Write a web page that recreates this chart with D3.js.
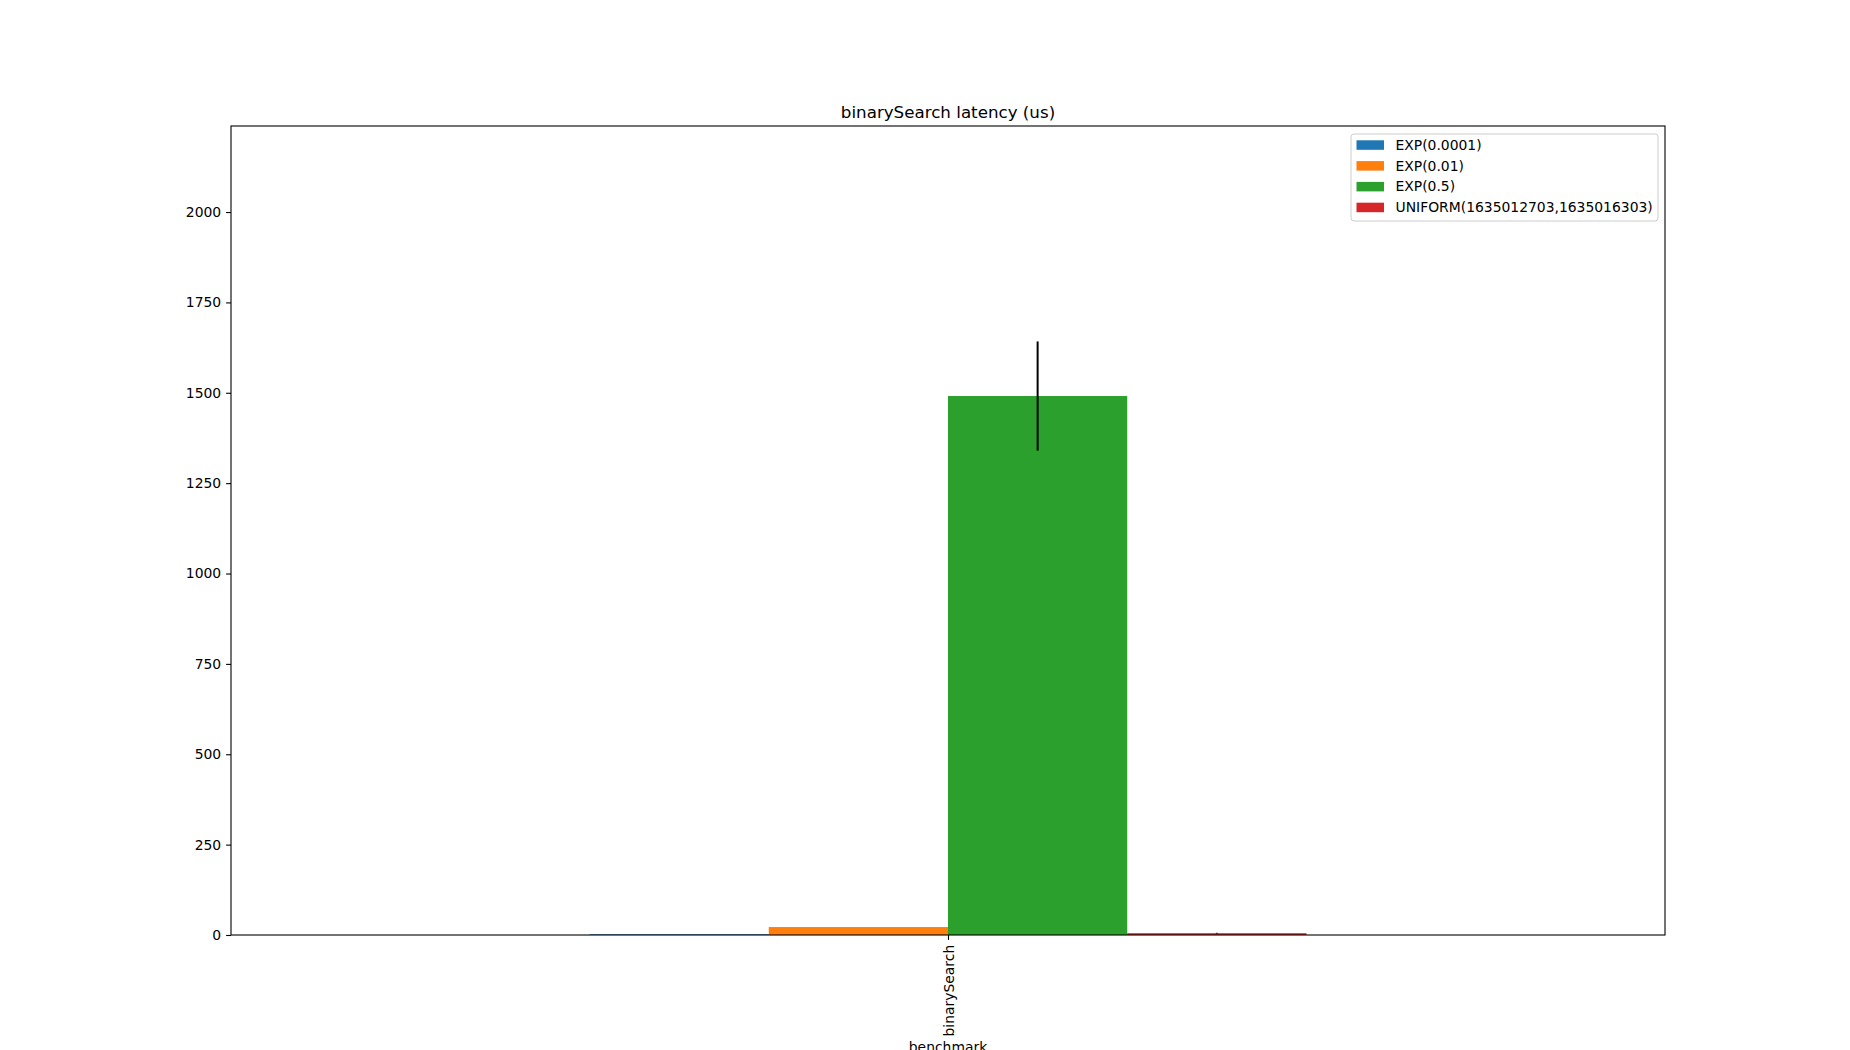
<!DOCTYPE html>
<html>
<head>
<meta charset="utf-8">
<script src="https://cdn.jsdelivr.net/npm/d3@7"></script>
<style>
  body { margin: 0; background: #fff; }
  text { font-family: "DejaVu Sans", sans-serif; fill: #000; }
</style>
</head>
<body>
<div id="chart"></div>
<script>
// data
const categories = ["binarySearch"];
const seriesNames = ["EXP(0.0001)", "EXP(0.01)", "EXP(0.5)", "UNIFORM(1635012703,1635016303)"];
const seriesColors = ["#1f77b4", "#ff7f0e", "#2ca02c", "#d62728"];
const means = [2, 22, 1491, 5];
const errors = [0, 0, 151, 1];
const yTicks = [0, 250, 500, 750, 1000, 1250, 1500, 1750, 2000];

const width = 1850, height = 1050;
const margin = {left: 231, right: 1850 - 1665, top: 126, bottom: 1050 - 935};

const svg = d3.select("#chart").append("svg")
  .attr("width", width)
  .attr("height", height);

const x = d3.scaleLinear().domain([-0.5, categories.length - 0.5]).range([margin.left, width - margin.right]);
const y = d3.scaleLinear().domain([0, 2238]).range([height - margin.bottom, margin.top]);

// each category gets 0.5 of width, split between the series
const inner = d3.scaleBand().domain(seriesNames).range([-0.25, 0.25]);

const g = svg.append("g");

categories.forEach((cat, ci) => {
  seriesNames.forEach((s, si) => {
    const x0 = x(ci + inner(s));
    const x1 = x(ci + inner(s) + inner.bandwidth());
    g.append("rect")
      .attr("x", x0)
      .attr("width", x1 - x0)
      .attr("y", y(means[si]))
      .attr("height", y(0) - y(means[si]))
      .attr("fill", seriesColors[si]);
  });
});

// error bars (skip the ones with no spread)
categories.forEach((cat, ci) => {
  seriesNames.forEach((s, si) => {
    if (!errors[si]) return;
    const cx = x(ci + inner(s) + inner.bandwidth() / 2);
    g.append("line")
      .attr("x1", cx).attr("x2", cx)
      .attr("y1", y(means[si] + errors[si]))
      .attr("y2", y(Math.max(0, means[si] - errors[si])))
      .attr("stroke", "#000")
      .attr("stroke-width", 2);
  });
});

// axes
const yAxis = d3.axisLeft(y).tickValues(yTicks).tickSize(4.9).tickPadding(4.9).tickFormat(d3.format("d"));
const ya = svg.append("g")
  .attr("transform", `translate(${margin.left},0)`)
  .call(yAxis);
ya.select(".domain").remove();
ya.selectAll("line").attr("stroke-width", 1.1);
ya.selectAll("text").style("font-size", "13.9px").style("font-family", "DejaVu Sans");

const xAxis = d3.axisBottom(x).tickValues(d3.range(categories.length)).tickFormat(i => categories[i]).tickSize(4.9).tickPadding(4.9);
const xa = svg.append("g")
  .attr("transform", `translate(0,${height - margin.bottom})`)
  .call(xAxis);
xa.select(".domain").remove();
xa.selectAll("line").attr("stroke-width", 1.1);
xa.selectAll("text")
  .style("font-size", "13.9px")
  .style("font-family", "DejaVu Sans")
  .attr("text-anchor", "end")
  .attr("dy", null)
  .attr("dominant-baseline", "central")
  .attr("transform", "rotate(-90)")
  .attr("x", -9.8)
  .attr("y", 0);

// frame
svg.append("rect")
  .attr("x", margin.left)
  .attr("y", margin.top)
  .attr("width", width - margin.left - margin.right)
  .attr("height", height - margin.top - margin.bottom)
  .attr("fill", "none")
  .attr("stroke", "#000")
  .attr("stroke-width", 1.1);

// title + x label (x label is clipped by the figure edge in the original too)
svg.append("text")
  .attr("x", (margin.left + width - margin.right) / 2)
  .attr("y", 118)
  .attr("text-anchor", "middle")
  .style("font-size", "16.7px")
  .text("binarySearch latency (us)");

svg.append("text")
  .attr("x", (margin.left + width - margin.right) / 2)
  .attr("y", 1052)
  .attr("text-anchor", "middle")
  .style("font-size", "13.9px")
  .text("benchmark");

// legend
const lg = svg.append("g").attr("transform", "translate(1351,134)");
lg.append("rect")
  .attr("width", 307)
  .attr("height", 87)
  .attr("rx", 3)
  .attr("fill", "#fff")
  .attr("fill-opacity", 0.8)
  .attr("stroke", "#cccccc")
  .attr("stroke-width", 1);

seriesNames.forEach((s, i) => {
  const cy = 11 + i * 20.8;
  lg.append("rect")
    .attr("x", 5.5)
    .attr("y", cy - 4.7)
    .attr("width", 27.5)
    .attr("height", 9.5)
    .attr("fill", seriesColors[i]);
  lg.append("text")
    .attr("x", 44.5)
    .attr("y", cy)
    .attr("dy", "0.35em")
    .style("font-size", "13.9px")
    .text(s);
});
</script>
</body>
</html>
